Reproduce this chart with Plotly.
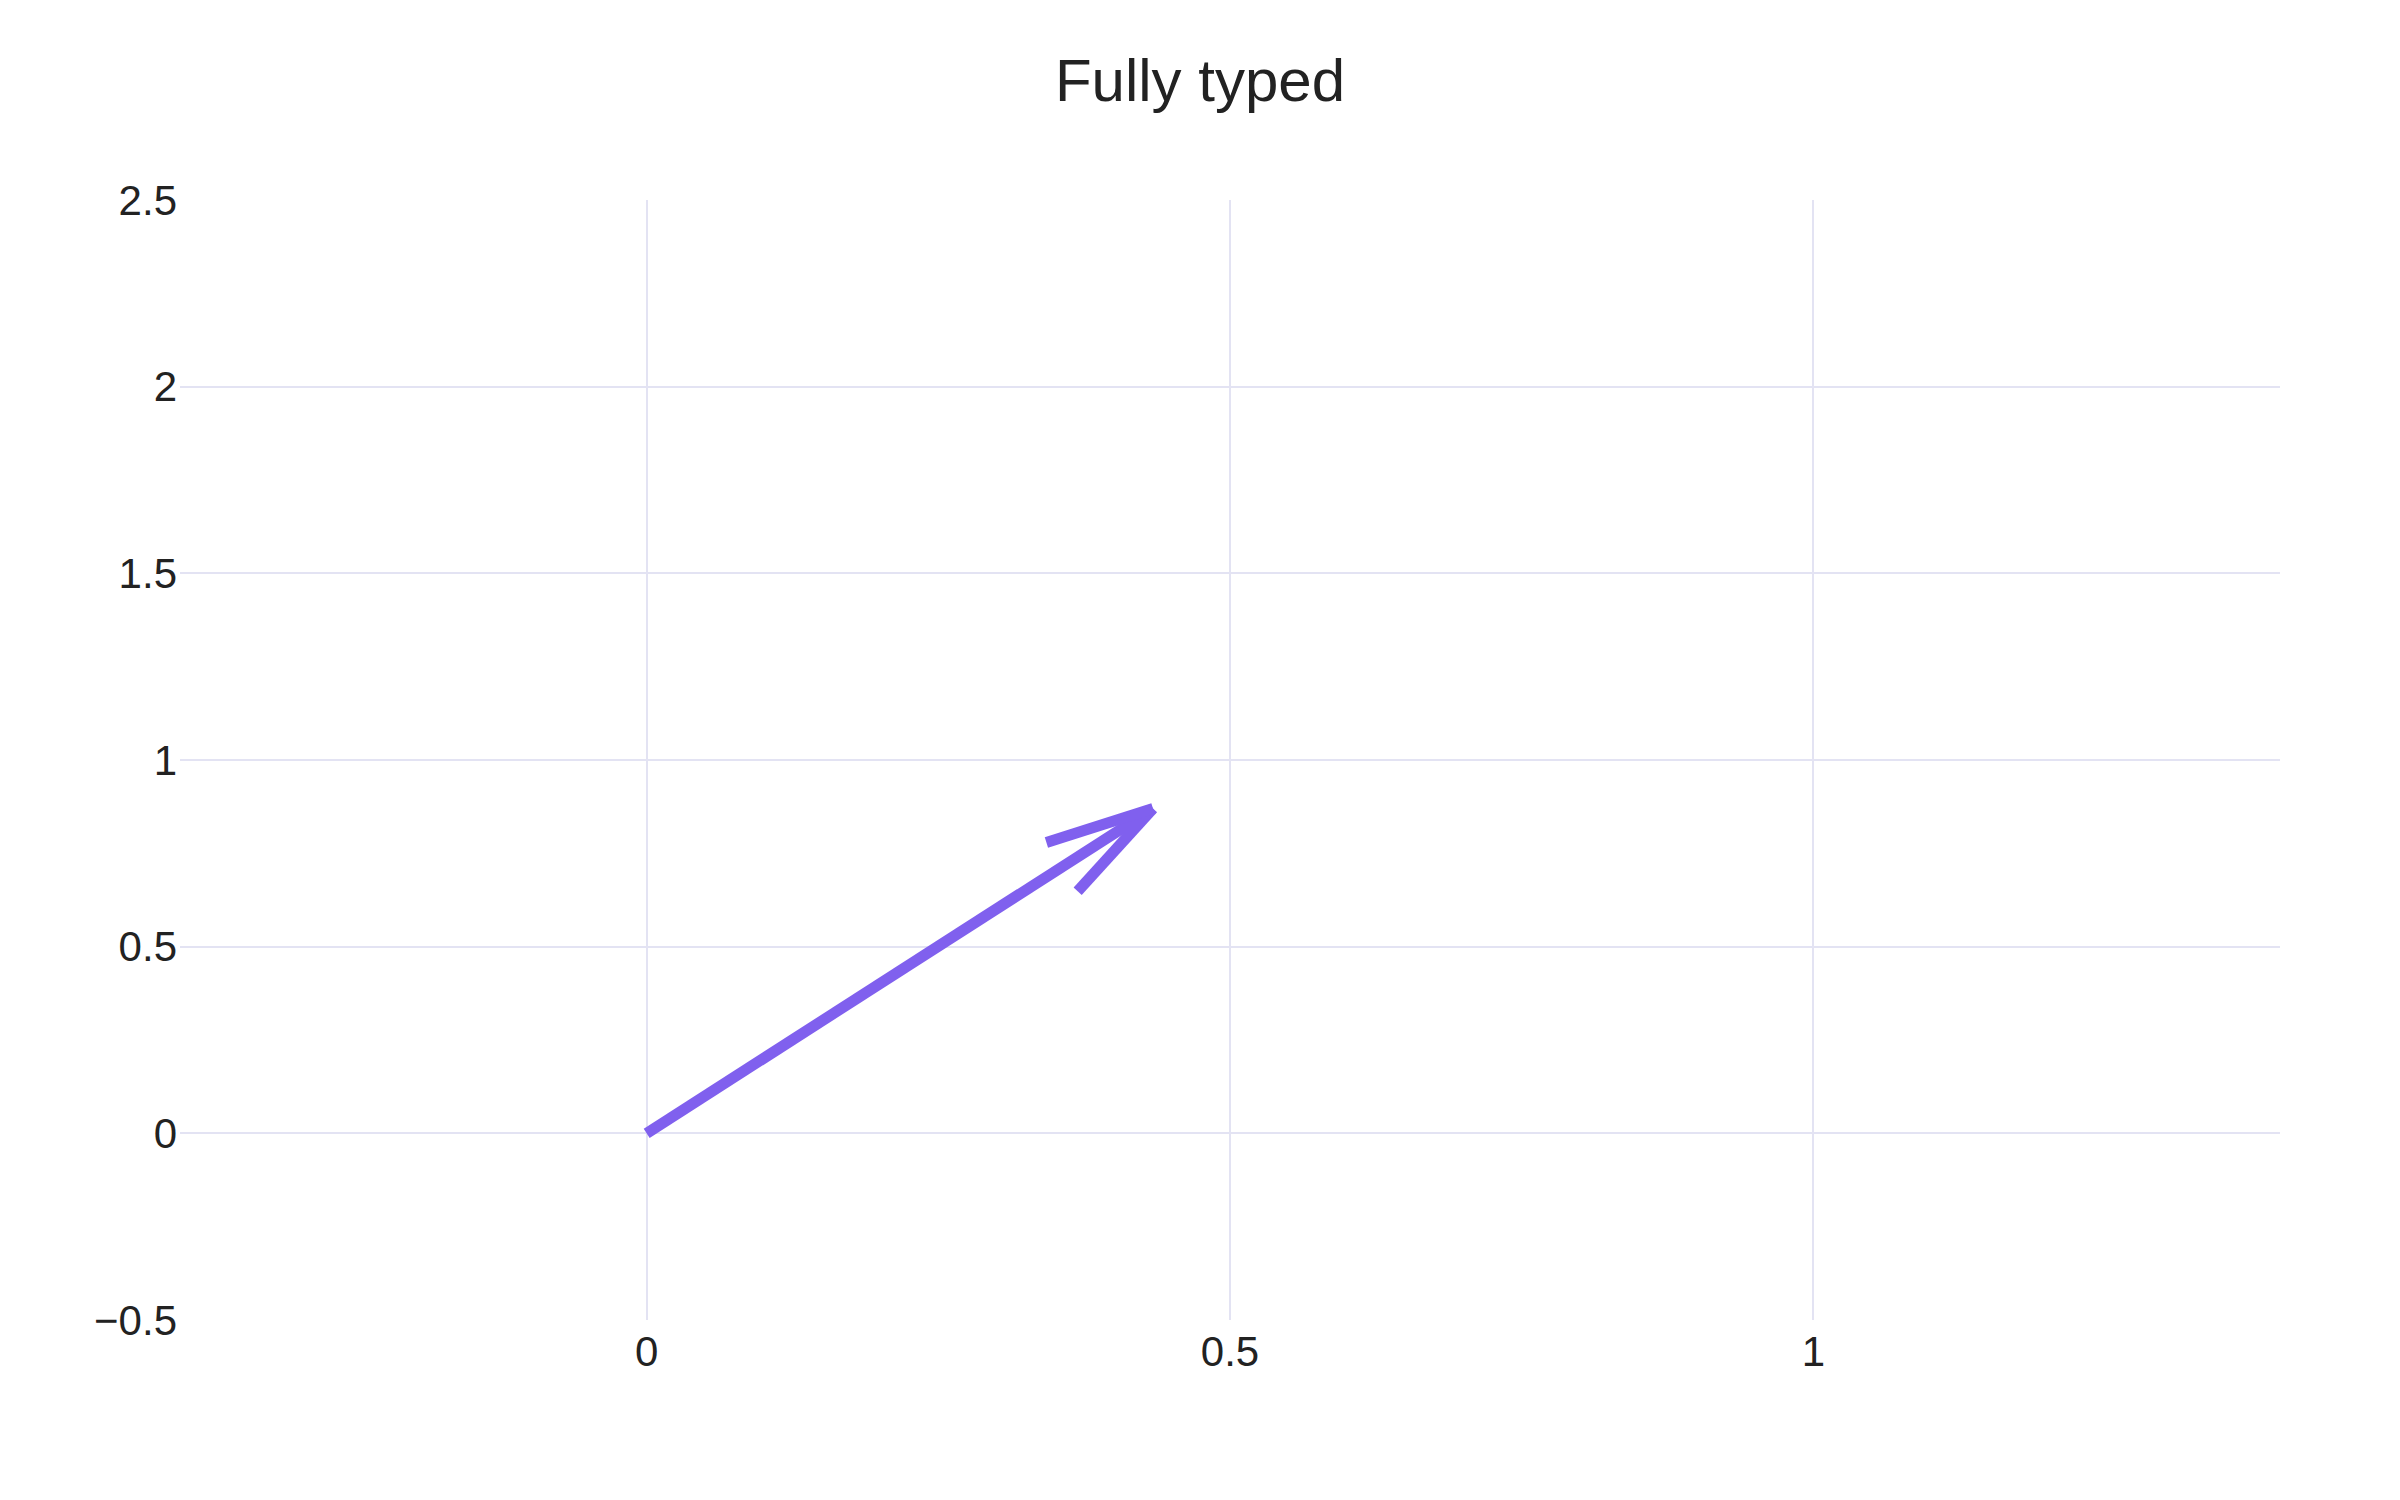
import math
import plotly.graph_objects as go

# arrow data (tail + vector components)
arrow_x = [0.0]
arrow_y = [0.0]
arrow_u = [0.434]
arrow_v = [0.870]

# arrow head: barb length as share of arrow length (in pixels) and half angle
head_scale = 0.186
head_angle = math.radians(15)

x_range = [-0.4, 1.4]
y_range = [-0.5, 2.5]
y_ticks = [-0.5, 0, 0.5, 1, 1.5, 2, 2.5]
x_ticks = [0, 0.5, 1]

# figure geometry (page body adds an 8px offset, so the figure is a bit smaller)
W, H = 2392, 1492
margin = dict(l=172, r=120, t=192, b=180)
px_x = (W - margin["l"] - margin["r"]) / (x_range[1] - x_range[0])
px_y = (H - margin["t"] - margin["b"]) / (y_range[1] - y_range[0])

xs, ys = [], []
for x0, y0, u, v in zip(arrow_x, arrow_y, arrow_u, arrow_v):
    x1, y1 = x0 + u, y0 + v
    # work in pixel space so the head looks symmetric on screen
    dx, dy = u * px_x, v * px_y
    ang = math.atan2(dy, dx)
    blen = math.hypot(dx, dy) * head_scale
    xs += [x0, x1, None]
    ys += [y0, y1, None]
    for a in (ang + head_angle, ang - head_angle):
        bx = x1 - blen * math.cos(a) / px_x
        by = y1 - blen * math.sin(a) / px_y
        xs += [x1, bx, None]
        ys += [y1, by, None]

fig = go.Figure()
fig.add_trace(
    go.Scatter(
        x=xs,
        y=ys,
        mode="lines",
        line=dict(color="#8060EE", width=11),
        hoverinfo="skip",
        showlegend=False,
    )
)

grid = "#E3E3F3"
fig.update_layout(
    width=W,
    height=H,
    margin=margin,
    paper_bgcolor="white",
    plot_bgcolor="white",
    font=dict(family="Liberation Sans, Arial, sans-serif", size=42, color="#222222"),
    title=dict(
        text="Fully typed",
        x=1192 / W,
        xref="container",
        xanchor="center",
        y=1 - 72 / H,
        yref="container",
        yanchor="middle",
        font=dict(size=60, color="#222222"),
    ),
    xaxis=dict(
        range=x_range,
        tickvals=x_ticks,
        showgrid=True,
        gridcolor=grid,
        gridwidth=2,
        zeroline=False,
        showline=False,
        ticks="",
        ticklabelstandoff=3,
    ),
    yaxis=dict(
        range=y_range,
        tickvals=y_ticks,
        showgrid=True,
        gridcolor=grid,
        gridwidth=2,
        zeroline=False,
        showline=False,
        ticks="",
        ticklabelstandoff=2,
    ),
)

fig.write_html("out.html")
